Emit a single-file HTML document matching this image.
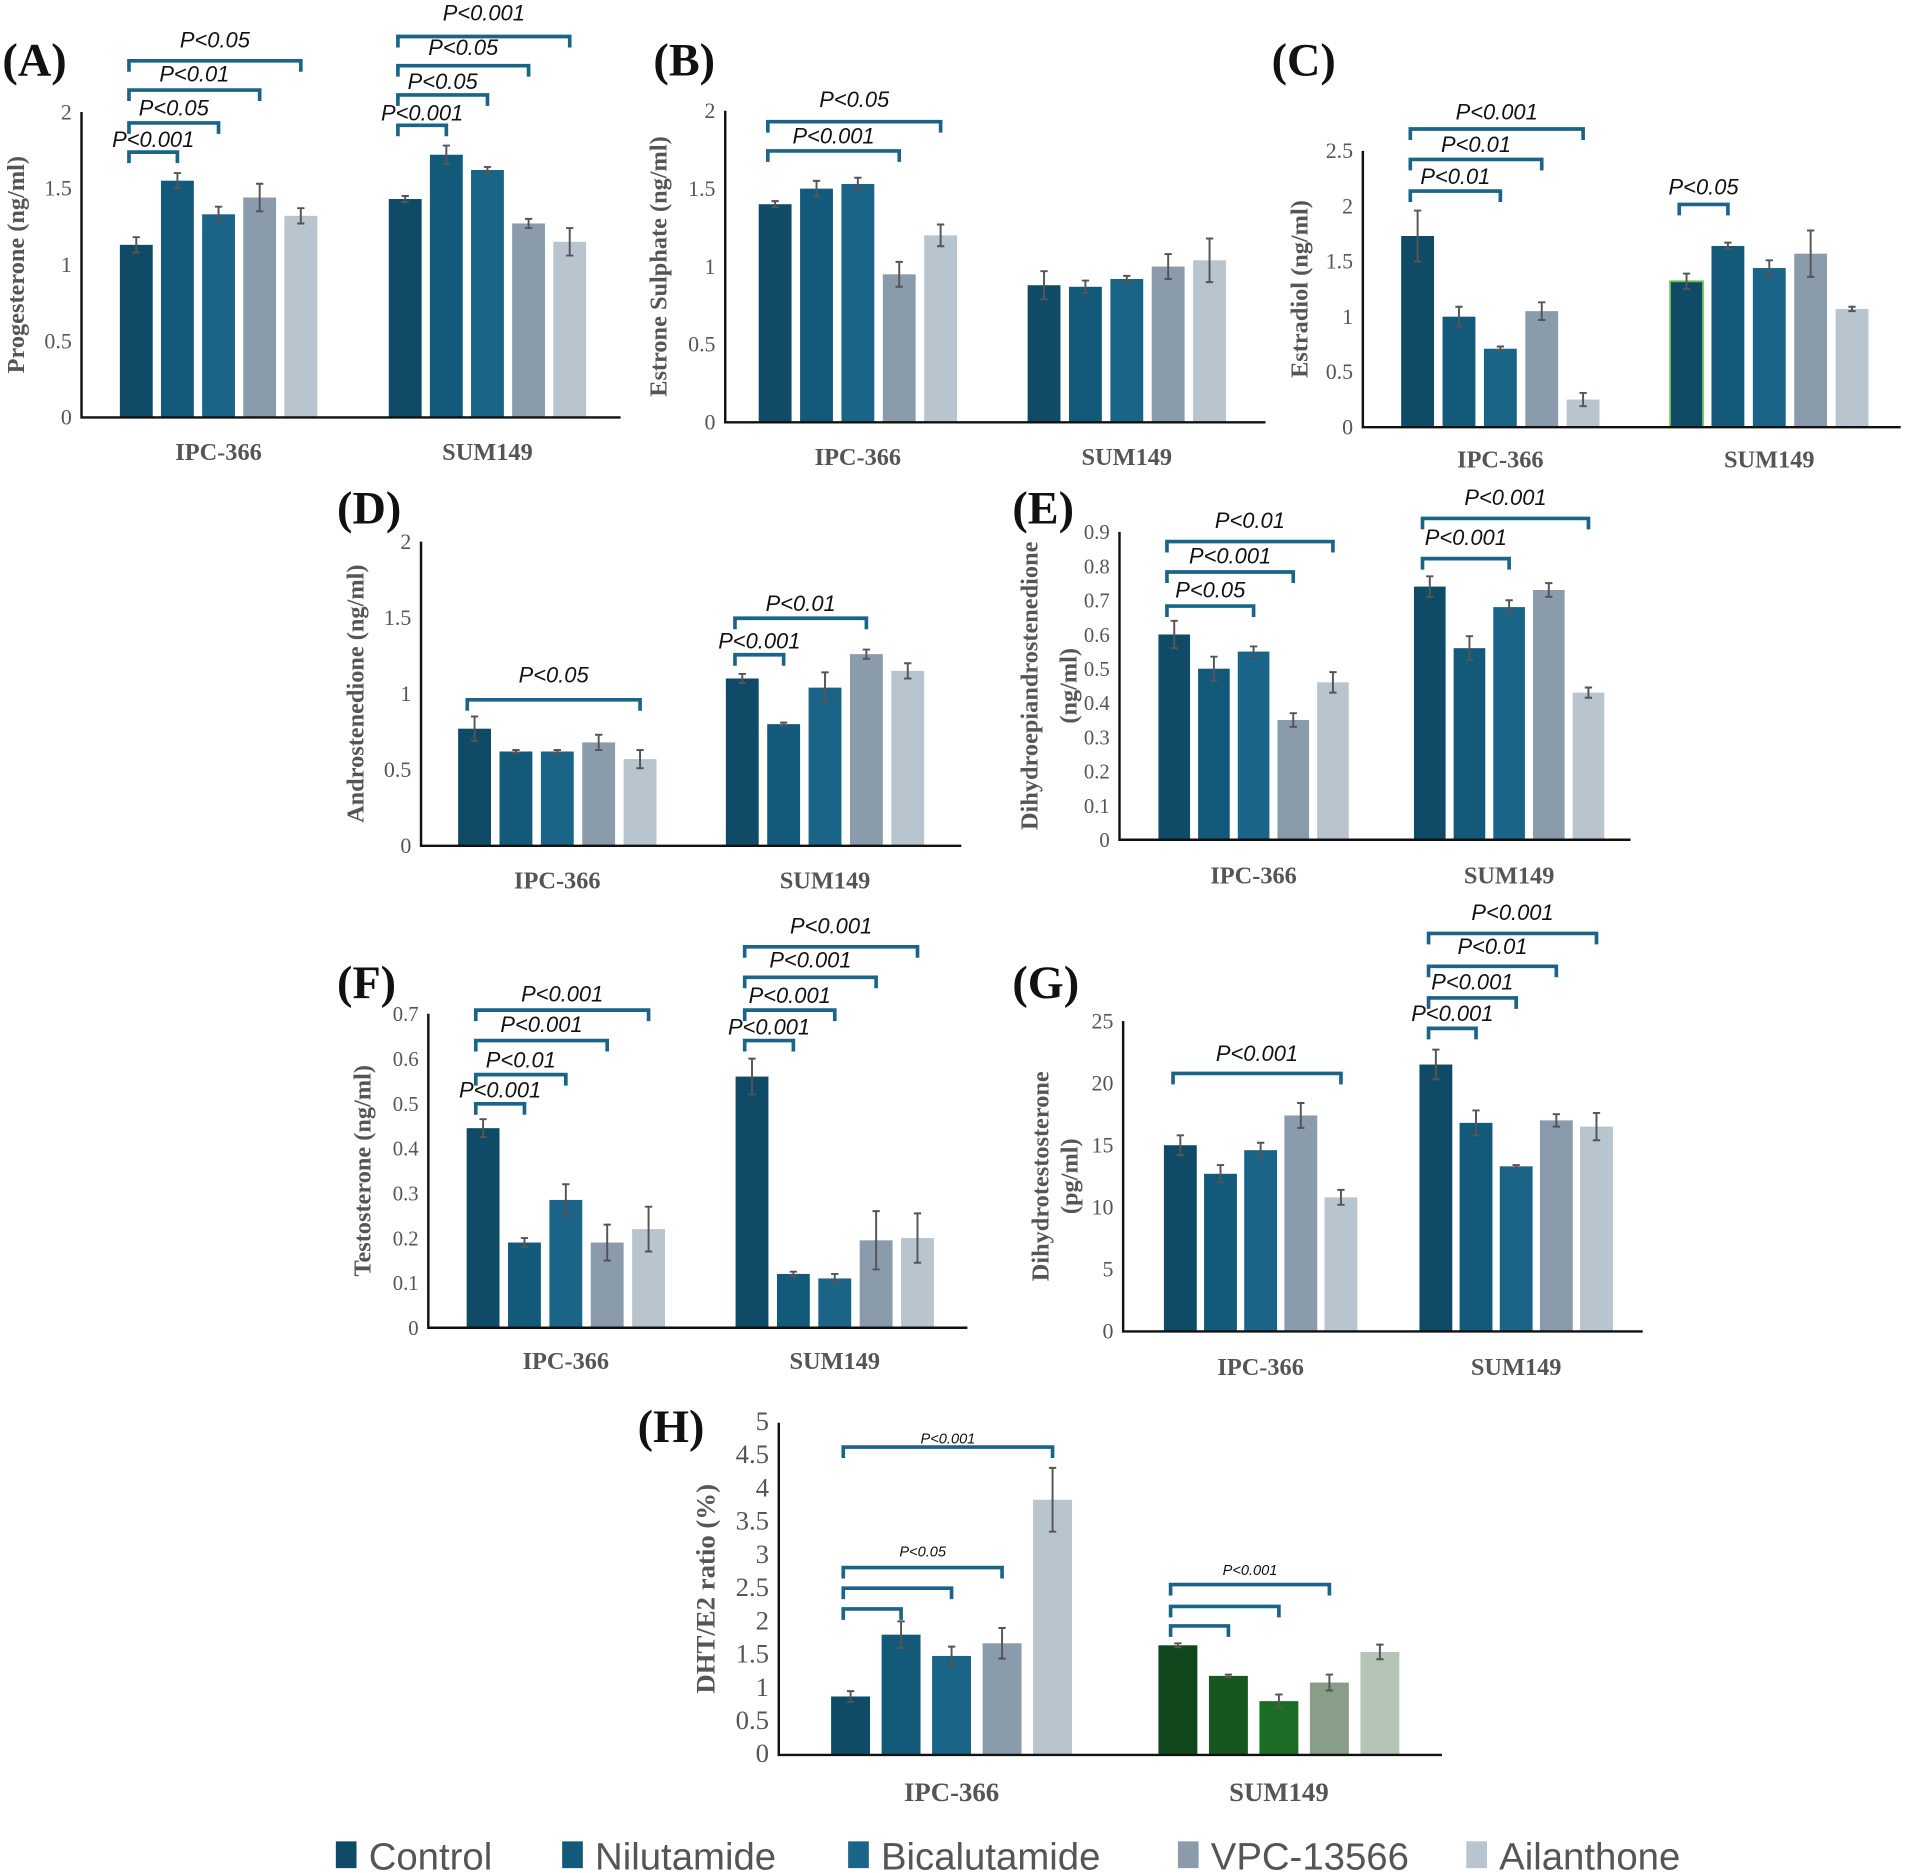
<!DOCTYPE html>
<html><head><meta charset="utf-8">
<style>
html,body{margin:0;padding:0;background:#fff;}
svg{display:block;}
</style></head>
<body>
<svg id="fig" width="1908" height="1873" viewBox="0 0 1568 1539" preserveAspectRatio="none" xmlns="http://www.w3.org/2000/svg"></svg>
<script>
// ---- data ----
const groups = ["IPC-366", "SUM149"];
const treatments = ["Control", "Nilutamide", "Bicalutamide", "VPC-13566", "Ailanthone"];
const progIPC = [1.13, 1.55, 1.33, 1.44, 1.32];
const progIPCerr = [0.05, 0.05, 0.05, 0.09, 0.05];
const progSUM = [1.43, 1.72, 1.62, 1.27, 1.15];
const progSUMerr = [0.02, 0.06, 0.02, 0.03, 0.09];
const e1sIPC = [1.40, 1.50, 1.53, 0.95, 1.20];
const e1sIPCerr = [0.02, 0.05, 0.04, 0.08, 0.07];
const e1sSUM = [0.88, 0.87, 0.92, 1.00, 1.04];
const e1sSUMerr = [0.09, 0.04, 0.02, 0.08, 0.14];
const e2IPC = [1.73, 1.00, 0.71, 1.05, 0.25];
const e2IPCerr = [0.23, 0.09, 0.02, 0.08, 0.06];
const e2SUM = [1.32, 1.64, 1.44, 1.57, 1.07];
const e2SUMerr = [0.07, 0.03, 0.07, 0.21, 0.02];
const andIPC = [0.77, 0.62, 0.62, 0.68, 0.57];
const andIPCerr = [0.08, 0.01, 0.01, 0.05, 0.06];
const andSUM = [1.10, 0.80, 1.04, 1.26, 1.15];
const andSUMerr = [0.03, 0.01, 0.10, 0.03, 0.05];
const dheaIPC = [0.60, 0.50, 0.55, 0.35, 0.46];
const dheaIPCerr = [0.04, 0.035, 0.015, 0.02, 0.03];
const dheaSUM = [0.74, 0.56, 0.68, 0.73, 0.43];
const dheaSUMerr = [0.03, 0.035, 0.02, 0.02, 0.015];
const testIPC = [0.445, 0.19, 0.285, 0.19, 0.22];
const testIPCerr = [0.02, 0.01, 0.035, 0.04, 0.05];
const testSUM = [0.56, 0.12, 0.11, 0.195, 0.20];
const testSUMerr = [0.04, 0.005, 0.01, 0.065, 0.055];
const dhtIPC = [15.0, 12.7, 14.6, 17.4, 10.8];
const dhtIPCerr = [0.8, 0.7, 0.6, 1.0, 0.6];
const dhtSUM = [21.5, 16.8, 13.3, 17.0, 16.5];
const dhtSUMerr = [1.2, 1.0, 0.1, 0.5, 1.1];
const ratioIPC = [0.88, 1.81, 1.49, 1.68, 3.84];
const ratioIPCerr = [0.08, 0.20, 0.14, 0.23, 0.48];
const ratioSUM = [1.65, 1.19, 0.81, 1.09, 1.55];
const ratioSUMerr = [0.03, 0.02, 0.10, 0.12, 0.11];
const ticksA = ["0","0.5","1","1.5","2"];
const ticksC = ["0","0.5","1","1.5","2","2.5"];
const ticksE = ["0","0.1","0.2","0.3","0.4","0.5","0.6","0.7","0.8","0.9"];
const ticksF = ["0","0.1","0.2","0.3","0.4","0.5","0.6","0.7"];
const ticksG = ["0","5","10","15","20","25"];
const ticksH = ["0","0.5","1","1.5","2","2.5","3","3.5","4","4.5","5"];

const blues = ["#0f4a66", "#135a7a", "#1a6488", "#8a9bab", "#b8c4ce"];
const greens = ["#11471c", "#17571f", "#1c6e27", "#889e88", "#b6c4b6"];

const NS = "http://www.w3.org/2000/svg";
const svg = document.getElementById("fig");
function el(tag, attrs, parent) {
  const e = document.createElementNS(NS, tag);
  for (const k in attrs) e.setAttribute(k, attrs[k]);
  (parent || svg).appendChild(e);
  return e;
}

function panel(c) {
  const g = el("g", {});
  
  
  const yMax = parseFloat(c.ticks[c.ticks.length - 1]);
  const ys = v => c.y0 - (v / yMax) * (c.y0 - c.yTop);
  const L = el("text", {x: c.lx, y: c.ly, "font-family": "Liberation Serif, serif", "font-weight": "bold", "font-size": 38, fill: "#111"}, g);
  L.textContent = "(" + c.id + ")";
  
  
  c.ticks.forEach(t => {
    const tt = el("text", {x: c.ax - 8, y: ys(parseFloat(t)) + 6, "text-anchor": "end", "font-family": "Liberation Serif, serif", "font-size": c.tfs || 18, fill: "#555"}, g);
    tt.textContent = t;
    
    
  });
  c.ylabel.forEach((s, i) => {
    const x = c.ylx[i], y = (c.y0 + c.yTop) / 2;
    const yl = el("text", {x: x, y: y, transform: `rotate(-90 ${x} ${y})`, "text-anchor": "middle", "dominant-baseline": "middle", "font-family": "Liberation Serif, serif", "font-weight": "bold", "font-size": c.yfs || 20, fill: "#555"}, g);
    yl.textContent = s;
    
    
  });
  const sets = [[c.ipc, c.ipcErr, c.x1, blues], [c.sum, c.sumErr, c.x2, c.sumColors || blues]];
  sets.forEach((s, gi) => {
    const [vals, errs, xs, cols] = s;
    vals.forEach((v, i) => {
      const cx = xs + i * c.sp;
      const r = el("rect", {x: cx - c.bw / 2, y: ys(v), width: c.bw, height: c.y0 - ys(v), fill: cols[i]}, g);
      if (c.outline && gi === 1 && i === 0) { r.setAttribute("stroke", "#6fc04a"); r.setAttribute("stroke-width", 1.5); }
      
      
      const e = errs[i];
      const eb = el("path", {d: `M${cx} ${ys(v + e)}V${ys(v - e)}M${cx - 3} ${ys(v + e)}H${cx + 3}M${cx - 3} ${ys(v - e)}H${cx + 3}`, stroke: "#555", "stroke-width": 1.6, fill: "none"}, g);
      
      
    });
    const gl = el("text", {x: xs + 2 * c.sp, y: c.gly, "text-anchor": "middle", "font-family": "Liberation Serif, serif", "font-weight": "bold", "font-size": c.gfs || 20, fill: "#555"}, g);
    gl.textContent = groups[gi];
    
    
  });
  const ax = el("path", {d: `M${c.ax} ${c.yTop}V${c.y0}H${c.axEnd}`, stroke: "#111", "stroke-width": 2, fill: "none"}, g);
  
  
  c.br.forEach(b => {
    const xs = b[0] === 0 ? c.x1 : c.x2;
    const xa = xs - 6, xb = xs + b[1] * c.sp;
    const p = el("path", {d: `M${xa} ${b[2] + 9}V${b[2]}H${xb}V${b[2] + 9}`, stroke: "#1a6488", "stroke-width": 3, fill: "none"}, g);
    
    
    if (b[3]) {
      const t = el("text", {x: (xa + xb) / 2 + (b[5] || 0), y: b[4] + 6, "text-anchor": "middle", "font-family": "Liberation Sans, sans-serif", "font-style": "italic", "font-size": c.pfs || 18, fill: "#111"}, g);
      t.textContent = b[3];
      
      
    }
  });
}

panel({id:"A", lx:2, ly:62, ax:67, axEnd:510, y0:343, yTop:92, ticks:ticksA, ylabel:["Progesterone (ng/ml)"], ylx:[15],
  ipc:progIPC, ipcErr:progIPCerr, sum:progSUM, sumErr:progSUMerr, x1:112, x2:333, sp:33.8, bw:27, gly:378,
  br:[[0,1,125,"P<0.001",115],[0,2,101,"P<0.05",89],[0,3,74,"P<0.01",61],[0,4,50,"P<0.05",33],
      [1,1,103,"P<0.001",93],[1,2,78,"P<0.05",67],[1,3,54,"P<0.05",39],[1,4,30,"P<0.001",11]]});
panel({id:"B", lx:537, ly:62, ax:596, axEnd:1040, y0:347, yTop:91, ticks:ticksA, ylabel:["Estrone Sulphate (ng/ml)"], ylx:[543],
  ipc:e1sIPC, ipcErr:e1sIPCerr, sum:e1sSUM, sumErr:e1sSUMerr, x1:637, x2:858, sp:34, bw:27, gly:382,
  br:[[0,3,124,"P<0.001",112],[0,4,100,"P<0.05",82]]});
panel({id:"C", lx:1045, ly:62, ax:1120, axEnd:1562, y0:351, yTop:124, ticks:ticksC, ylabel:["Estradiol (ng/ml)"], ylx:[1070],
  ipc:e2IPC, ipcErr:e2IPCerr, sum:e2SUM, sumErr:e2SUMerr, x1:1165, x2:1386, sp:34, bw:27, gly:384, outline:true,
  br:[[0,2,157,"P<0.01",145],[0,3,131,"P<0.01",119],[0,4,106,"P<0.001",92],[1,1,168,"P<0.05",154]]});
panel({id:"D", lx:277, ly:430, ax:346, axEnd:790, y0:695, yTop:445, ticks:ticksA, ylabel:["Androstenedione (ng/ml)"], ylx:[294],
  ipc:andIPC, ipcErr:andIPCerr, sum:andSUM, sumErr:andSUMerr, x1:390, x2:610, sp:34, bw:27, gly:730,
  br:[[0,4,575,"P<0.05",555],[1,1,538,"P<0.001",527],[1,3,508,"P<0.01",496]]});
panel({id:"E", lx:832, ly:430, ax:920, axEnd:1340, y0:690, yTop:437, ticks:ticksE, ylabel:["Dihydroepiandrostenedione","(ng/ml)"], ylx:[848,880], tfs:17,
  ipc:dheaIPC, ipcErr:dheaIPCerr, sum:dheaSUM, sumErr:dheaSUMerr, x1:965, x2:1175, sp:32.6, bw:26, gly:726,
  br:[[0,2,498,"P<0.05",485],[0,3,470,"P<0.001",457],[0,4,445,"P<0.01",428],[1,2,459,"P<0.001",442],[1,4,426,"P<0.001",409]]});
panel({id:"F", lx:277, ly:820, ax:352, axEnd:795, y0:1091, yTop:833, ticks:ticksF, ylabel:["Testosterone (ng/ml)"], ylx:[300], tfs:17,
  ipc:testIPC, ipcErr:testIPCerr, sum:testSUM, sumErr:testSUMerr, x1:397, x2:618, sp:34, bw:27, gly:1125,
  br:[[0,1,907,"P<0.001",896],[0,2,883,"P<0.01",871],[0,3,855,"P<0.001",842],[0,4,830,"P<0.001",817],
      [1,1,855,"P<0.001",844],[1,2,830,"P<0.001",818],[1,3,803,"P<0.001",789],[1,4,778,"P<0.001",761]]});
panel({id:"G", lx:832, ly:820, ax:923, axEnd:1350, y0:1094, yTop:839, ticks:ticksG, ylabel:["Dihydrotestosterone","(pg/ml)"], ylx:[857,881],
  ipc:dhtIPC, ipcErr:dhtIPCerr, sum:dhtSUM, sumErr:dhtSUMerr, x1:970, x2:1180, sp:33, bw:27, gly:1130,
  br:[[0,4,882,"P<0.001",866],[1,1,845,"P<0.001",833],[1,2,820,"P<0.001",807],[1,3,794,"P<0.01",778],[1,4,767,"P<0.001",750]]});
panel({id:"H", lx:524, ly:1185, ax:640, axEnd:1185, y0:1442, yTop:1169, ticks:ticksH, ylabel:["DHT/E2 ratio (%)"], ylx:[582], tfs:22, yfs:22, gfs:22, pfs:12,
  ipc:ratioIPC, ipcErr:ratioIPCerr, sum:ratioSUM, sumErr:ratioSUMerr, x1:699, x2:968, sp:41.5, bw:32, gly:1480, sumColors:greens,
  br:[[0,4,1189,"P<0.001",1180],[0,3,1288,"P<0.05",1273],[0,2,1305,""],[0,1,1322,""],
      [1,3,1302,"P<0.001",1288],[1,2,1320,""],[1,1,1336,""]]});

const legX = [276, 462, 697, 968, 1205];
const lg = el("g", {});


treatments.forEach((t, i) => {
  const r = el("rect", {x: legX[i], y: 1513, width: 17, height: 22, fill: blues[i]}, lg);
  
  
  const tx = el("text", {x: legX[i] + 27, y: 1536, "font-family": "Liberation Sans, sans-serif", "font-size": 31.5, fill: "#555"}, lg);
  tx.textContent = t;
  
  
});
</script>
</body></html>
